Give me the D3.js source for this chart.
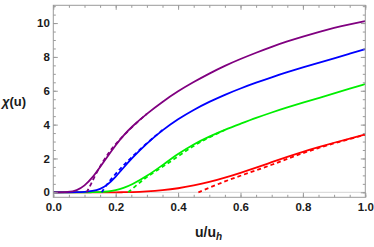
<!DOCTYPE html>
<html>
<head>
<meta charset="utf-8">
<script src="https://cdnjs.cloudflare.com/ajax/libs/d3/7.8.5/d3.min.js"></script>
<style>
  body { margin: 0; background: #fff; }
  svg { display: block; }
</style>
</head>
<body>
<script>
// u/u_h sample points (shared by the solid curves)
var uGrid = [0, 0.05, 0.075, 0.1, 0.125, 0.15, 0.175, 0.2, 0.225, 0.25, 0.3, 0.35, 0.4,
             0.45, 0.5, 0.55, 0.6, 0.65, 0.7, 0.75, 0.8, 0.85, 0.9, 0.95, 1.0];

// solid curves chi(u)
var purpleChi = [0, 0.01, 0.1, 0.38, 0.85, 1.5, 2.15, 2.8, 3.36, 3.85, 4.65, 5.35, 5.98,
                 6.52, 7.02, 7.48, 7.88, 8.25, 8.6, 8.92, 9.2, 9.47, 9.72, 9.93, 10.12];
var blueChi   = [0, 0, 0.005, 0.02, 0.07, 0.18, 0.45, 0.92, 1.45, 1.98, 2.9, 3.68, 4.33,
                 4.88, 5.35, 5.77, 6.14, 6.48, 6.8, 7.1, 7.38, 7.65, 7.92, 8.19, 8.46];
var greenChi  = [0, 0, 0, 0, 0.005, 0.01, 0.04, 0.12, 0.25, 0.43, 0.95, 1.6, 2.28,
                 2.85, 3.3, 3.7, 4.05, 4.4, 4.72, 5.02, 5.3, 5.57, 5.84, 6.12, 6.4];
var redChi    = [0, 0, 0, 0, 0, 0, 0, 0, 0.005, 0.01, 0.05, 0.12, 0.23,
                 0.4, 0.6, 0.86, 1.15, 1.45, 1.78, 2.1, 2.4, 2.67, 2.93, 3.18, 3.42];

// dashed approximations
var purpleDashU = [0.107, 0.12, 0.14, 0.16, 0.18, 0.2, 0.25, 0.3];
var purpleDash  = [0, 0.45, 1.22, 1.85, 2.4, 2.86, 3.84, 4.64];
var blueDashU   = [0.155, 0.175, 0.2, 0.225, 0.25, 0.3, 0.35];
var blueDash    = [0, 0.55, 1.1, 1.6, 2.05, 2.92, 3.68];
var greenDashU  = [0.24, 0.275, 0.3, 0.35, 0.4, 0.45, 0.5, 0.55];
var greenDash   = [0, 0.55, 0.92, 1.5, 2.12, 2.76, 3.26, 3.68];
var redDashU    = [0.465, 0.5, 0.55, 0.6, 0.65, 0.7, 0.75, 0.8, 0.85, 0.9, 1.0];
var redDash     = [0, 0.27, 0.65, 0.98, 1.3, 1.62, 1.98, 2.32, 2.62, 2.9, 3.4];

var xTicks = [0, 0.2, 0.4, 0.6, 0.8, 1.0];
var yTicks = [0, 2, 4, 6, 8, 10];

var w = 374, h = 247;
var plotL = 53.3, plotR = 365.3, plotT = 5.3, plotB = 197.3;

var svg = d3.select("body").append("svg")
  .attr("width", w)
  .attr("height", h);

var x = d3.scaleLinear().domain([0, 1]).range([plotL, plotR]);
var y = d3.scaleLinear().domain([-0.295, 11.05]).range([plotB, plotT]);

var frameColor = "#9a9a9a";
var labelFont = "'Liberation Sans', Arial, sans-serif";

// light axis line at chi = 0
svg.append("line")
  .attr("x1", plotL).attr("x2", plotR)
  .attr("y1", y(0)).attr("y2", y(0))
  .attr("stroke", "#d4d4d4")
  .attr("stroke-width", 1);

// curves
var line = d3.line()
  .x(function(d) { return x(d[0]); })
  .y(function(d) { return y(d[1]); })
  .curve(d3.curveBasis);

var series = [
  { u: uGrid, v: redChi, color: "#ff0000", dash: null },
  { u: uGrid, v: greenChi, color: "#00ee00", dash: null },
  { u: uGrid, v: blueChi, color: "#0000ff", dash: null },
  { u: uGrid, v: purpleChi, color: "#800080", dash: null },
  { u: redDashU, v: redDash, color: "#ff0000", dash: "4,3" },
  { u: greenDashU, v: greenDash, color: "#00ee00", dash: "4,3" },
  { u: blueDashU, v: blueDash, color: "#0000ff", dash: "4,3" },
  { u: purpleDashU, v: purpleDash, color: "#800080", dash: "4,3" }
];

svg.append("defs").append("clipPath").attr("id", "plotclip")
  .append("rect")
  .attr("x", plotL).attr("y", plotT)
  .attr("width", plotR - plotL).attr("height", plotB - plotT);

svg.append("g").attr("clip-path", "url(#plotclip)")
  .selectAll("path")
  .data(series)
  .enter()
  .append("path")
  .attr("d", function(s) { return line(s.u.map(function(u, i) { return [u, s.v[i]]; })); })
  .attr("fill", "none")
  .attr("stroke", function(s) { return s.color; })
  .attr("stroke-width", 1.8)
  .attr("stroke-dasharray", function(s) { return s.dash; });

// frame with ticks on all four sides
var xMinor = d3.range(0, 1.0001, 0.05);
var yMinor = d3.range(0, 11.01, 0.5);

function tickAxis(axisFn, scale, major, minor, transform, labels) {
  var gMinor = svg.append("g").attr("transform", transform)
    .call(axisFn(scale).tickValues(minor).tickSize(-2.5).tickFormat(""));
  var gMajor = svg.append("g").attr("transform", transform)
    .call(axisFn(scale).tickValues(major).tickSize(-4.5).tickPadding(6)
      .tickFormat(labels ? d3.format(labels) : ""));
  [gMinor, gMajor].forEach(function(g) {
    g.select(".domain").remove();
    g.selectAll("line").attr("stroke", frameColor);
  });
  gMajor.selectAll("text")
    .attr("font-family", labelFont)
    .attr("font-weight", "bold")
    .attr("font-size", "11.5px")
    .attr("fill", "#1a1a1a");
  if (!labels) gMajor.selectAll("text").remove();
  gMinor.selectAll("text").remove();
  return gMajor;
}

tickAxis(d3.axisBottom, x, xTicks, xMinor, "translate(0," + plotB + ")", ".1f");
tickAxis(d3.axisTop, x, xTicks, xMinor, "translate(0," + plotT + ")", null);
var gy = tickAxis(d3.axisLeft, y, yTicks, yMinor, "translate(" + plotL + ",0)", "d");
gy.selectAll("text").attr("x", -3.5);
tickAxis(d3.axisRight, y, yTicks, yMinor, "translate(" + plotR + ",0)", null);

svg.append("rect")
  .attr("x", plotL).attr("y", plotT)
  .attr("width", plotR - plotL).attr("height", plotB - plotT)
  .attr("fill", "none")
  .attr("stroke", frameColor)
  .attr("stroke-width", 1);

// axis labels
var yl = svg.append("text")
  .attr("x", 2).attr("y", 106)
  .attr("font-family", labelFont)
  .attr("font-weight", "bold")
  .attr("font-size", "13px")
  .attr("fill", "#1a1a1a");
yl.append("tspan").attr("font-style", "italic").text("χ");
yl.append("tspan").text("(u)");

var xl = svg.append("text")
  .attr("x", 195).attr("y", 237)
  .attr("font-family", labelFont)
  .attr("font-weight", "bold")
  .attr("font-size", "14px")
  .attr("fill", "#1a1a1a");
xl.append("tspan").text("u/u");
xl.append("tspan").attr("font-style", "italic").attr("font-size", "10px")
  .attr("dy", 3).text("h");
</script>
</body>
</html>
